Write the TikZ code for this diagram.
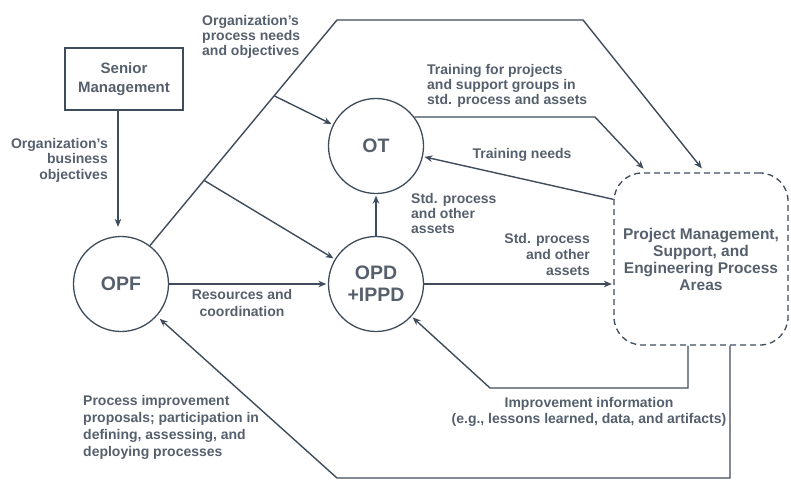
\documentclass[tikz,border=0pt]{standalone}
\usepackage{fontspec}
\setmainfont{Liberation Sans}
\usetikzlibrary{arrows.meta,calc}
\definecolor{ink}{HTML}{3E4C5C}
\definecolor{txt}{HTML}{56606D}

\begin{document}
\begin{tikzpicture}[x=1pt,y=-1pt,
  flow/.style={draw=ink, line width=1.4pt},
  arr/.style={flow, -{Stealth[length=8pt,width=6.5pt]}, shorten >=1.5pt},
  lbl/.style={text=txt, inner sep=0pt, font=\bfseries\fontsize{14}{15}\selectfont},
  proc/.style={circle, draw=ink, line width=1.3pt, minimum size=95pt, inner sep=0pt,
    text=txt, align=center, font=\bfseries\fontsize{19.5}{22}\selectfont},
  mgmt/.style={rectangle, draw=ink, line width=1.3pt, minimum width=118pt, minimum height=62pt,
    text=txt, align=center, font=\bfseries\fontsize{15}{19}\selectfont},
  area/.style={rectangle, draw=ink, line width=1.3pt, dash pattern=on 6pt off 4pt,
    rounded corners=28pt, minimum width=174pt, minimum height=172pt,
    text=txt, align=center, font=\bfseries\fontsize{15.5}{17}\selectfont}
]
\useasboundingbox (0,0) rectangle (791,480);

% process nodes
\node[mgmt] (sm) at (124,79) {Senior\\Management};
\node[proc] (opf) at (121,284) {OPF};
\node[proc] (ot) at (376,146) {OT};
\node[proc] (opd) at (376,284) {OPD\\+IPPD};
\node[area] (pa) at (701,259) {Project Management,\\Support, and\\Engineering Process\\Areas};

% labels
\node[lbl, anchor=north west, align=left] (needslbl) at (202,15)
  {Organization’s\\process needs\\and objectives};
\node[lbl, anchor=north east, align=right, font=\bfseries\fontsize{14}{15.5}\selectfont] (bizlbl) at (108,138)
  {Organization’s\\business\\objectives};
\node[lbl, anchor=north west, align=left] (trainlbl) at (427,64)
  {Training for projects\\and support groups in\\std. process and assets};
\node[lbl] (needlbl) at (522,155) {Training needs};
\node[lbl, anchor=north west, align=left] (assetlbl) at (411,193)
  {Std. process\\and other\\assets};
\node[lbl, anchor=north east, align=right, font=\bfseries\fontsize{14}{16}\selectfont] (assetlbl2) at (590,233)
  {Std. process\\and other\\assets};
\node[lbl, align=center, font=\bfseries\fontsize{14}{17.5}\selectfont] (reslbl) at (242,303)
  {Resources and\\coordination};
\node[lbl, anchor=north west, align=left, font=\bfseries\fontsize{14}{17}\selectfont] (piplbl) at (83,395)
  {Process improvement\\proposals; participation in\\defining, assessing, and\\deploying processes};
\node[lbl, align=center, font=\bfseries\fontsize{14}{16}\selectfont] (implbl) at (589,412)
  {Improvement information\\(e.g., lessons learned, data, and artifacts)};

% routing points
\coordinate (c1) at (337,20);
\coordinate (c2) at (583,20);
\coordinate (b1) at ($(opf.53)!0.664!(c1)$);
\coordinate (b2) at ($(opf.53)!0.289!(c1)$);
\coordinate (t1) at (595,117);
\coordinate (i2) at (490,388);
\coordinate (p2) at (337,478);

% connectors
\draw[arr, shorten >=9pt] ([xshift=-6pt]sm.south) -- ([xshift=-3pt]opf.north);
\draw[arr, shorten >=5pt] (opf.53) -- (c1) -- (c2) -- ([xshift=4pt]pa.north);
\draw[arr] (b1) -- (ot);
\draw[arr] (b2) -- (opd);
\draw[arr] (opf) -- (opd);
\draw[arr] (opd) -- (ot);
\draw[arr, shorten >=5pt] (ot.37) -- (t1) -- ([xshift=-54pt]pa.north);
\draw[arr] ([yshift=-27pt]pa.north west) -- (ot);
\draw[arr] (opd) -- (opd -| pa.west);
\draw[arr] ([xshift=-13pt]pa.south) |- (i2) -- (opd);
\draw[arr, shorten >=4pt] ([xshift=29pt]pa.south) |- (p2) -- (opf);
\end{tikzpicture}
\end{document}
